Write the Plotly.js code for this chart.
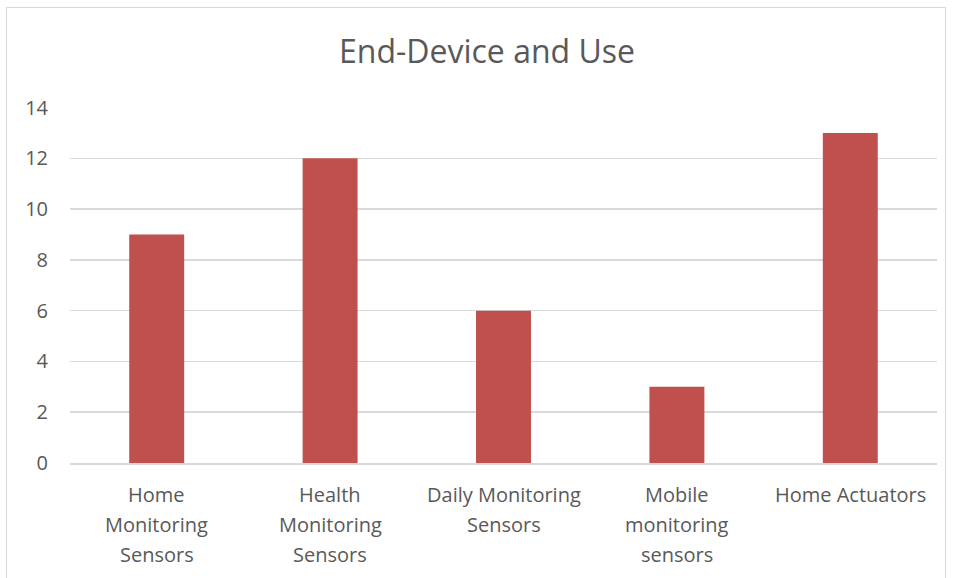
<!DOCTYPE html>
<html><head><meta charset="utf-8">
<script src="https://cdn.plot.ly/plotly-3.0.1.min.js"></script>
<style>
body{margin:0;background:#fff;}
#frame{position:absolute;left:6px;top:7px;width:940px;height:620px;border:1.5px solid #d9d9d9;box-sizing:border-box;}
#chart{position:absolute;left:0;top:0;width:953px;height:578px;}
</style></head>
<body><div id="frame"></div><div id="chart"></div>
<script>
const categories = ["Home Monitoring Sensors","Health Monitoring Sensors","Daily Monitoring Sensors","Mobile monitoring sensors","Home Actuators"];
const labelLines = [["Home","Monitoring","Sensors"],["Health","Monitoring","Sensors"],["Daily Monitoring","Sensors"],["Mobile","monitoring","sensors"],["Home Actuators"]];
const values = [9, 12, 6, 3, 13];
const yTicks = [0,2,4,6,8,10,12,14];

const annotations = [];
categories.forEach((c, i) => {
  labelLines[i].forEach((line, j) => {
    annotations.push({x:c, xref:'x', y:0, yref:'paper', yanchor:'middle', text:line, showarrow:false,
      yshift:-(31 + 30*j), font:{size:20, color:'#595959'}});
  });
});

Plotly.newPlot('chart', [{
  type:'bar', x: categories, y: values,
  marker:{color:'#C0504D'}, hoverinfo:'none'
}], {
  width:953, height:578,
  margin:{l:70, r:16, t:107, b:115},
  paper_bgcolor:'rgba(0,0,0,0)', plot_bgcolor:'rgba(0,0,0,0)',
  bargap:0.683,
  font:{family:'Open Sans, Liberation Sans, sans-serif', color:'#595959'},
  title:{text:'End-Device and Use', x:0.511, xref:'container', y:0.91, yref:'container', yanchor:'middle', font:{size:32, color:'#595959'}},
  xaxis:{showticklabels:false, showgrid:false, zeroline:false, showline:true, linecolor:'#d9d9d9', linewidth:1.5, ticks:''},
  yaxis:{range:[0,14.02], tickvals:yTicks, tickfont:{size:20}, gridcolor:'#d9d9d9', gridwidth:1.5, zeroline:false, ticks:'', ticklabelstandoff:21},
  annotations: annotations,
  showlegend:false
}, {staticPlot:true});
</script></body></html>
